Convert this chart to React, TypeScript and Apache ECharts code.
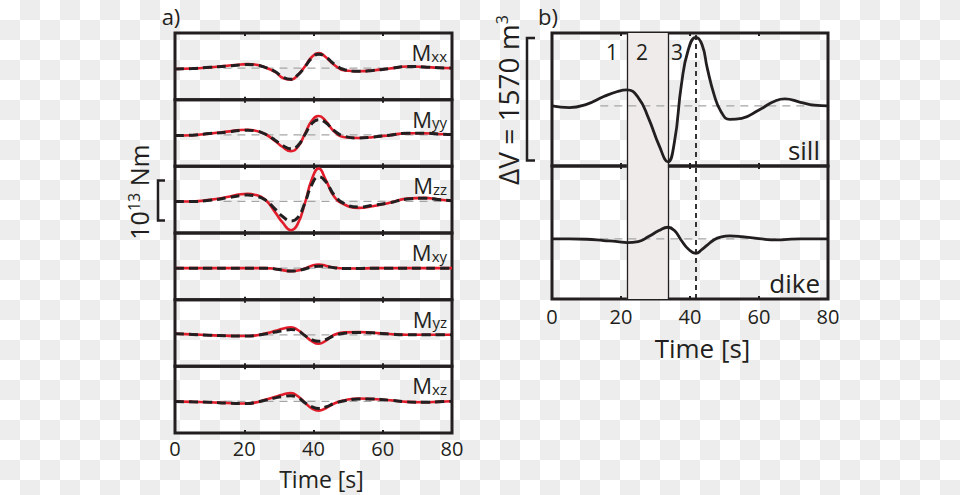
import React, { useEffect, useRef } from 'react';
import * as echarts from 'echarts';

// ---------- data ----------
const timesA = [0, 5, 10, 15, 19, 21, 23, 26, 29, 31, 33.5, 35.5, 37.5, 39.5, 41.5, 43.5, 46, 49, 53, 57, 62, 67, 72, 76, 80];
const xTicks = [0, 20, 40, 60, 80];

const componentNames = ['xx', 'yy', 'zz', 'xy', 'yz', 'xz'];

const mxxRed = [-0.02, -0.01, 0.02, 0.06, 0.09, 0.1, 0.09, 0.02, -0.1, -0.24, -0.29, -0.17, 0.04, 0.28, 0.375, 0.28, 0.08, -0.06, -0.08, -0.06, -0.01, 0.04, 0.03, 0.01, 0];
const mxxBlack = [-0.02, -0.01, 0.02, 0.05, 0.08, 0.09, 0.08, 0.02, -0.09, -0.22, -0.28, -0.17, 0.03, 0.25, 0.35, 0.28, 0.1, -0.04, -0.08, -0.06, -0.01, 0.04, 0.03, 0.01, 0];
const myyRed = [-0.02, -0.01, 0.03, 0.08, 0.12, 0.125, 0.11, 0.02, -0.16, -0.3, -0.41, -0.3, 0.02, 0.35, 0.47, 0.35, 0.08, -0.06, -0.08, -0.06, -0.01, 0.04, 0.04, 0.02, 0.01];
const myyBlack = [-0.02, -0.01, 0.03, 0.07, 0.11, 0.115, 0.1, 0.02, -0.14, -0.26, -0.35, -0.27, 0.0, 0.28, 0.38, 0.31, 0.1, -0.04, -0.08, -0.06, -0.01, 0.04, 0.04, 0.02, 0.01];
const mzzRed = [0, 0, 0.04, 0.11, 0.18, 0.19, 0.17, 0.05, -0.28, -0.52, -0.72, -0.55, -0.05, 0.55, 0.83, 0.55, 0.12, -0.08, -0.16, -0.12, -0.03, 0.07, 0.09, 0.05, 0.02];
const mzzBlack = [0, 0, 0.03, 0.09, 0.15, 0.16, 0.14, 0.04, -0.2, -0.37, -0.49, -0.4, -0.04, 0.42, 0.62, 0.5, 0.16, -0.06, -0.14, -0.1, -0.03, 0.06, 0.08, 0.05, 0.02];
const mxyRed = [0, 0, 0, 0, 0, 0, 0, 0, -0.02, -0.05, -0.075, -0.06, -0.01, 0.06, 0.09, 0.06, 0.01, -0.01, -0.01, 0, 0, 0, 0, 0, 0];
const mxyBlack = [0, 0, 0, 0, 0, 0, 0, 0, -0.02, -0.05, -0.075, -0.06, -0.02, 0.03, 0.05, 0.04, 0.01, -0.01, -0.01, 0, 0, 0, 0, 0, 0];
const myzRed = [0.025, 0.01, -0.01, -0.025, -0.03, -0.03, -0.02, 0.03, 0.1, 0.15, 0.19, 0.12, -0.02, -0.16, -0.225, -0.15, 0.0, 0.06, 0.07, 0.05, 0.02, 0, 0, 0, 0];
const myzBlack = [0.025, 0.01, -0.01, -0.025, -0.03, -0.03, -0.02, 0.02, 0.07, 0.1, 0.13, 0.1, -0.02, -0.12, -0.16, -0.12, -0.02, 0.04, 0.06, 0.05, 0.02, 0, 0, 0, 0];
const mxzRed = [0, -0.01, -0.02, -0.04, -0.05, -0.05, -0.03, 0.04, 0.12, 0.17, 0.21, 0.13, -0.03, -0.17, -0.23, -0.17, -0.05, 0.03, 0.075, 0.06, 0.03, -0.01, -0.02, -0.01, 0.005];
const mxzBlack = [0, -0.01, -0.02, -0.04, -0.05, -0.05, -0.03, 0.03, 0.09, 0.12, 0.14, 0.1, -0.03, -0.13, -0.175, -0.14, -0.05, 0.02, 0.06, 0.06, 0.03, -0.01, -0.02, -0.01, 0.005];

const redSeries = [mxxRed, myyRed, mzzRed, mxyRed, myzRed, mxzRed];
const blackSeries = [mxxBlack, myyBlack, mzzBlack, mxyBlack, myzBlack, mxzBlack];

const timesB = [0, 5, 10, 15, 19, 21.7, 25, 28, 31, 33.6, 35.5, 37.5, 39.5, 41.7, 43.5, 45, 47, 49, 51.5, 55, 60, 65, 67.5, 72, 76, 80];
const sillVol = [0, -21, 21, 120, 185, 206, 107, -159, -502, -716, -459, 270, 720, 880, 785, 485, 142, -73, -172, -159, -51, 70, 90, 47, 10, 0];
const dikeVol = [0, 0, -4, -21, -35, -47, -34, 30, 107, 150, 107, -20, -130, -185, -133, -80, -10, 25, 39, 30, 4, -13, -8, 0, 0, 0];

const phaseBounds = [21.7, 33.6];
const peakTime = 41.7;
const phaseLabels = ['1', '2', '3'];
const baselineStart = 14;

const scaleA = [-0.475, 0.525]; // 10^13 Nm bar
const scaleB = [-700, 870]; // 1570 m^3 bar

const rangeA = [-0.79, 0.88];
const rangeB = [-770, 935];

// ---------- styles ----------
const INK = '#231f20';
const RED = '#e21c2a';
const GRAY = '#a5a5a5';
const SHADE = '#efebea';
const FONT = '"Open Sans", "Noto Sans", "DejaVu Sans", sans-serif';

export default function App() {
  const ref = useRef<HTMLDivElement>(null);

  useEffect(() => {
    const el = ref.current!;
    const chart = echarts.init(el, null, { renderer: 'svg' });

    const aTop = 33, aH = 400 / 6, aLeft = 175, aW = 277;
    const bTop = 33, bH = 133, bLeft = 552, bW = 276;

    const grids: any[] = [];
    const xAxes: any[] = [];
    const yAxes: any[] = [];
    const series: any[] = [];

    const addGrid = (left: number, top: number, w: number, h: number, range: number[], showLabels: boolean, labelMargin: number) => {
      const gi = grids.length;
      grids.push({ left, top, width: w, height: h, show: true, borderColor: INK, borderWidth: 3, backgroundColor: 'transparent' });
      const base = {
        type: 'value', gridIndex: gi, min: xTicks[0], max: xTicks[xTicks.length - 1], interval: xTicks[1] - xTicks[0],
        axisLine: { show: false, onZero: false }, splitLine: { show: false },
        axisTick: { show: true, inside: true, length: 3, lineStyle: { color: INK, width: 2 } },
      };
      xAxes.push({ ...base, position: 'bottom', axisLabel: { show: showLabels, fontSize: 20, color: INK, fontFamily: FONT, margin: labelMargin } });
      xAxes.push({ ...base, position: 'top', axisLabel: { show: false } });
      yAxes.push({ type: 'value', gridIndex: gi, min: range[0], max: range[1], show: false, axisLine: { onZero: false } });
      return gi;
    };

    const pairs = (xs: number[], ys: number[]) => xs.map((x, i) => [x, ys[i]]);

    // panel a
    for (let i = 0; i < 6; i++) {
      const gi = addGrid(aLeft, aTop + i * aH, aW, aH, rangeA, i === 5, 5);
      const common = { type: 'line', xAxisIndex: 2 * gi, yAxisIndex: gi, symbol: 'none', silent: true };
      series.push({ ...common, data: [[baselineStart, 0], [80, 0]], lineStyle: { color: GRAY, width: 1.3, type: [8, 6] }, z: 1 });
      series.push({ ...common, data: pairs(timesA, redSeries[i]), smooth: true, lineStyle: { color: RED, width: 2.6 }, z: 2 });
      series.push({ ...common, data: pairs(timesA, blackSeries[i]), smooth: true, lineStyle: { color: INK, width: 3, type: [9, 5] }, z: 3 });
    }

    // panel b
    const bData = [sillVol, dikeVol];
    for (let j = 0; j < 2; j++) {
      const gi = addGrid(bLeft, bTop + j * bH, bW, bH, rangeB, j === 1, 7);
      const common = { type: 'line', xAxisIndex: 2 * gi, yAxisIndex: gi, symbol: 'none', silent: true };
      series.push({
        ...common, data: [], z: 0,
        markArea: { silent: true, itemStyle: { color: SHADE }, data: [[{ xAxis: phaseBounds[0] }, { xAxis: phaseBounds[1] }]] },
      });
      series.push({
        ...common, data: [[baselineStart, 0], [80, 0]], lineStyle: { color: GRAY, width: 1.3, type: [8, 6] }, z: 1,
        markLine: {
          silent: true, symbol: ['none', 'none'], label: { show: false },
          data: [
            { xAxis: phaseBounds[0], lineStyle: { color: INK, width: 1.3, type: 'solid' } },
            { xAxis: phaseBounds[1], lineStyle: { color: INK, width: 1.3, type: 'solid' } },
            { xAxis: peakTime, lineStyle: { color: INK, width: 1.8, type: [5, 4] } },
          ],
        },
      });
      series.push({ ...common, data: pairs(timesB, bData[j]), smooth: true, lineStyle: { color: INK, width: 2.8 }, z: 3 });
    }

    chart.setOption({
      animation: false,
      backgroundColor: 'transparent',
      grid: grids,
      xAxis: xAxes,
      yAxis: yAxes,
      series,
    });

    const txt = (x: number, y: number, text: string, fontSize: number, align = 'center') => ({
      type: 'text', x, y, silent: true, z: 50,
      style: { text, fontSize, fontFamily: FONT, fill: INK, align, verticalAlign: 'middle' },
    });

    const graphics: any[] = [];
    graphics.push(txt(171, 16, 'a)', 22));
    graphics.push(txt(548, 16, 'b)', 22));
    graphics.push(txt(321.5, 479, 'Time [s]', 23));
    graphics.push(txt(702.5, 348, 'Time [s]', 26));

    componentNames.forEach((c, i) => {
      graphics.push({
        type: 'text', x: aLeft + aW - 5, y: aTop + i * aH + 19, silent: true, z: 50,
        style: {
          text: `{m|M}{s|${c}}`, align: 'right', verticalAlign: 'middle', fill: INK, fontFamily: FONT,
          rich: {
            m: { fontSize: 22, lineHeight: 22, fontFamily: FONT, fill: INK },
            s: { fontSize: 15, lineHeight: 10, verticalAlign: 'bottom', fontFamily: FONT, fill: INK },
          },
        },
      });
    });

    const phaseX = [612, 642, 677];
    phaseLabels.forEach((l, i) => graphics.push(txt(phaseX[i], 52, l, 21)));
    graphics.push(txt(bLeft + bW - 8, 150, 'sill', 26, 'right'));
    graphics.push(txt(bLeft + bW - 8, 283, 'dike', 26, 'right'));

    graphics.push({
      type: 'text', x: 139, y: 192, rotation: Math.PI / 2, silent: true, z: 50,
      style: {
        text: '{b|10}{s|13}{b| Nm}', align: 'center', verticalAlign: 'middle', fill: INK, fontFamily: FONT,
        rich: {
          b: { fontSize: 25, lineHeight: 26, fontFamily: FONT, fill: INK },
          s: { fontSize: 16, lineHeight: 10, verticalAlign: 'top', fontFamily: FONT, fill: INK },
        },
      },
    });
    graphics.push({
      type: 'text', x: 508, y: 100, rotation: Math.PI / 2, silent: true, z: 50,
      style: {
        text: '{b|ΔV = 1570 m}{s|3}', align: 'center', verticalAlign: 'middle', fill: INK, fontFamily: FONT,
        rich: {
          b: { fontSize: 28, lineHeight: 28, fontFamily: FONT, fill: INK },
          s: { fontSize: 16, lineHeight: 10, verticalAlign: 'top', fontFamily: FONT, fill: INK },
        },
      },
    });

    // scale bars, placed through the axes
    const yA1 = chart.convertToPixel({ yAxisIndex: 2 } as any, scaleA[1]) as number;
    const yA0 = chart.convertToPixel({ yAxisIndex: 2 } as any, scaleA[0]) as number;
    const yB1 = chart.convertToPixel({ yAxisIndex: 6 } as any, scaleB[1]) as number;
    const yB0 = chart.convertToPixel({ yAxisIndex: 6 } as any, scaleB[0]) as number;
    const bracket = (x0: number, x1: number, yt: number, yb: number) => ({
      type: 'polyline', silent: true, z: 50,
      shape: { points: [[x1, yt], [x0, yt], [x0, yb], [x1, yb]] },
      style: { stroke: INK, lineWidth: 2.5, fill: null },
    });
    graphics.push(bracket(158, 165, yA1, yA0));
    graphics.push(bracket(527, 535, yB1, yB0));

    chart.setOption({ graphic: graphics });

    return () => chart.dispose();
  }, []);

  return (
    <div
      style={{
        position: 'absolute', left: 0, top: 0, width: 960, height: 495,
        backgroundColor: '#ffffff',
        backgroundImage: 'conic-gradient(#ededed 0 25%, #ffffff 0 50%, #ededed 0 75%, #ffffff 0)',
        backgroundSize: '40px 40px',
      }}
    >
      <div ref={ref} style={{ width: 960, height: 495 }} />
    </div>
  );
}
